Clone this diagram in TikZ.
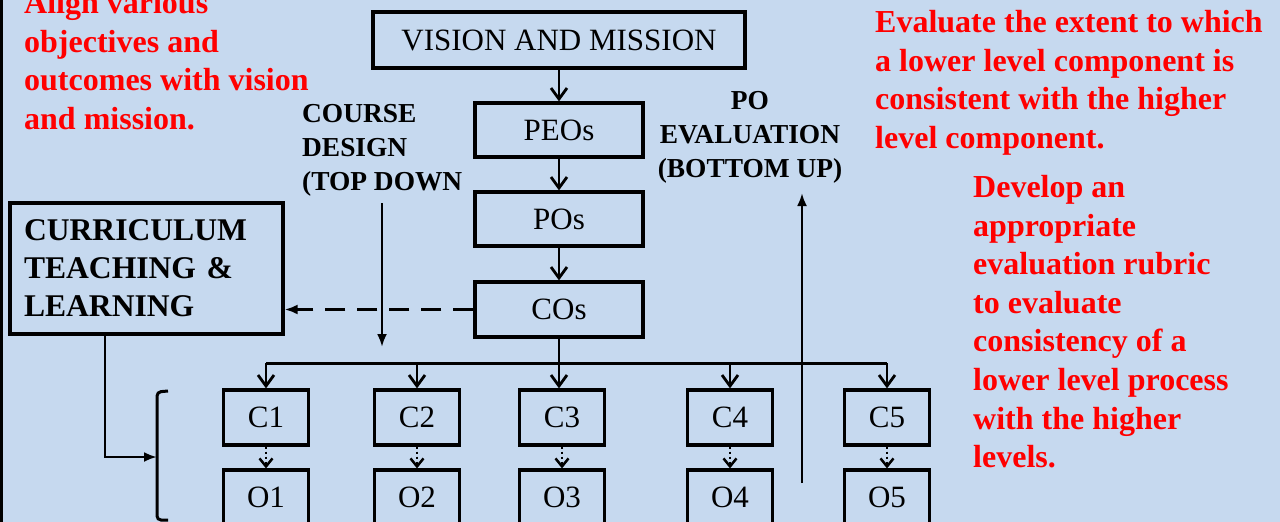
\documentclass[tikz,border=0pt]{standalone}
\usepackage{fontspec}
\setmainfont{Liberation Serif}
\usetikzlibrary{arrows.meta,positioning,calc}
\definecolor{bgblue}{RGB}{198,217,239}

\begin{document}
\begin{tikzpicture}[x=1pt, y=-1pt,
    box/.style={draw, line width=3.2pt, inner sep=0pt, minimum height=55pt, font=\fontsize{31}{36}\selectfont},
    arr/.style={-{Straight Barb[length=11pt,width=16pt]}, line width=2.8pt},
    tri/.style={-{Latex[length=13pt,width=10pt]}, line width=2.8pt},
    dotarr/.style={-{Straight Barb[length=8pt,width=13pt]}, line width=2.5pt, dash pattern=on 2pt off 3pt},
    note/.style={text=red, font=\bfseries\fontsize{32}{38.6}\selectfont, align=left, inner sep=0pt, anchor=north west},
    lbl/.style={font=\bfseries\fontsize{27.4}{34}\selectfont, inner sep=0pt}
]
\fill[bgblue] (0,0) rectangle (1280,522);
\useasboundingbox (0,0) rectangle (1280,522);
\draw[line width=3pt] (1,0) -- (1,522);

\node[box, minimum width=372pt, minimum height=56pt] (vision) at (559,40) {VISION AND MISSION};
\node[box, minimum width=168pt, minimum height=54pt] (peo) at (559,130) {PEOs};
\node[box, minimum width=168pt, minimum height=54pt] (po) at (559,219) {POs};
\node[box, minimum width=168pt] (co) at (559,309.5) {COs};
\node[box, font=\bfseries\fontsize{31.6}{38}\selectfont, minimum width=273pt, minimum height=131pt, text width=245pt, align=left] (curr) at (146.5,268.5) {CURRICULUM\\TEACHING \&\\LEARNING};

\draw[arr] (vision) -- (peo);
\draw[arr] (peo) -- (po);
\draw[arr] (po) -- (co);

\foreach \i/\x in {1/266,2/417,3/562,4/730,5/887} {
  \node[box, minimum width=85pt] (c\i) at (\x,417.5) {C\i};
  \node[box, minimum width=85pt] (o\i) at (\x,497.5) {O\i};
  \draw[dotarr] (c\i) -- (o\i);
}

\coordinate (bus) at (559,363);
\draw[line width=3pt] (bus -| c1.north) -- (bus -| c5.north);
\foreach \i in {1,2,4,5}
  \draw[arr] (bus -| c\i.north) -- (c\i.north);
\draw[arr] (co.south) -- (co.south |- c3.north);

\draw[tri, dash pattern=on 20pt off 12pt] (co.west) -- (co.west -| curr.east);

\draw[line width=3pt, rounded corners=4pt] (168,391) -- (157,392) -- (157,520) -- (168,520);
\coordinate (brk) at (157,457);
\draw[tri] ($(curr.south west)!.35!(curr.south east)$) |- (brk);

\node[lbl, anchor=north west, align=left] (design) at (302,104) {COURSE\\DESIGN\\(TOP DOWN};
\node[lbl, anchor=north, align=center] (poeval) at (750,91.5) {PO\\EVALUATION\\(BOTTOM UP)};

\coordinate (tdtop) at (382,203);
\coordinate (tdbot) at (382,347);
\draw[tri] (tdtop) -- (tdbot);
\coordinate (bubot) at (802,483);
\coordinate (butop) at (802,193);
\draw[tri] (bubot) -- (butop);

\node[note] (align) at (24,-9) {Align various\\objectives and\\outcomes with vision\\and mission.};
\node[note] (extent) at (875,10) {Evaluate the extent to which\\a lower level component is\\consistent with the higher\\level component.};
\node[note] (rubric) at (973,175) {Develop an\\appropriate\\evaluation rubric\\to evaluate\\consistency of a\\lower level process\\with the higher\\levels.};
\end{tikzpicture}
\end{document}
